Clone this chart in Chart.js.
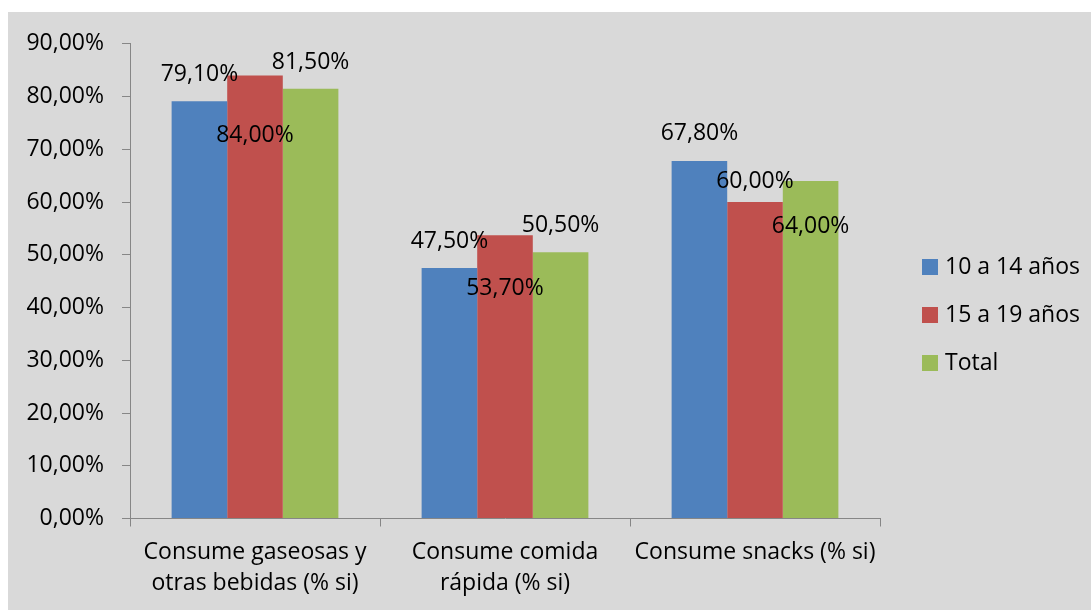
<!DOCTYPE html>
<html>
<head>
<meta charset="utf-8">
<script src="https://cdn.jsdelivr.net/npm/chart.js@4/dist/chart.umd.min.js"></script>
<style>
  body { margin: 0; background: #ffffff; }
  #marco { position: absolute; left: 8px; top: 12px; width: 1083px; height: 598px; background: #d9d9d9; }
</style>
</head>
<body>
<div id="marco"><canvas id="grafico" width="1083" height="598"></canvas></div>
<script>
const categorias = [
  ["Consume gaseosas y", "otras bebidas (% si)"],
  ["Consume comida", "rápida (% si)"],
  ["Consume snacks (% si)"]
];
const series = ["10 a 14 años", "15 a 19 años", "Total"];
const edad10a14 = [79.1, 47.5, 67.8];
const edad15a19 = [84.0, 53.7, 60.0];
const total = [81.5, 50.5, 64.0];
const colores = ["#4f81bd", "#c0504d", "#9bbb59"];

// desplazamiento vertical de cada etiqueta respecto al tope de la barra (px)
const desplazamientos = [
  [-27, -27, -27],
  [60, 53, -21],
  [-26, -27, 46]
];

const fuente = "'Open Sans', sans-serif";
const formato = v => v.toFixed(2).replace(".", ",") + "%";

const etiquetas = {
  id: "etiquetas",
  afterDatasetsDraw(chart) {
    const ctx = chart.ctx;
    ctx.save();
    ctx.font = "23px " + fuente;
    ctx.fillStyle = "#000";
    ctx.textAlign = "center";
    ctx.textBaseline = "middle";
    chart.data.datasets.forEach((ds, i) => {
      chart.getDatasetMeta(i).data.forEach((bar, j) => {
        ctx.fillText(formato(ds.data[j]), bar.x, bar.y + desplazamientos[i][j]);
      });
    });
    ctx.restore();
  }
};

const leyenda = {
  id: "leyenda",
  afterDraw(chart) {
    const ctx = chart.ctx;
    ctx.save();
    ctx.font = "23px " + fuente;
    ctx.textBaseline = "middle";
    chart.data.datasets.forEach((ds, i) => {
      const y = 255 + i * 48;
      ctx.fillStyle = ds.backgroundColor;
      ctx.fillRect(914, y - 8, 16, 16);
      ctx.fillStyle = "#000";
      ctx.fillText(ds.label, 937, y);
    });
    ctx.restore();
  }
};

new Chart(document.getElementById("grafico"), {
  type: "bar",
  data: {
    labels: categorias,
    datasets: [
      { label: series[0], data: edad10a14, backgroundColor: colores[0] },
      { label: series[1], data: edad15a19, backgroundColor: colores[1] },
      { label: series[2], data: total, backgroundColor: colores[2] }
    ]
  },
  options: {
    responsive: false,
    animation: false,
    devicePixelRatio: 1,
    categoryPercentage: 0.667,
    barPercentage: 1.0,
    layout: { padding: { top: 30, right: 211, bottom: 0, left: 0 } },
    plugins: {
      legend: { display: false },
      tooltip: { enabled: false }
    },
    scales: {
      x: {
        grid: { display: true, drawOnChartArea: false, drawTicks: true, tickLength: 8, color: "#868686", offset: true },
        border: { display: true, color: "#868686" },
        ticks: { color: "#000", font: { family: fuente, size: 23, lineHeight: 1.35 }, padding: 10, maxRotation: 0 },
        afterFit: s => { s.height = 91.5; }
      },
      y: {
        min: 0,
        max: 90,
        grid: { display: true, drawOnChartArea: false, drawTicks: true, tickLength: 8, color: "#868686" },
        border: { display: true, color: "#868686" },
        ticks: { stepSize: 10, color: "#000", font: { family: fuente, size: 23 }, padding: 18, callback: v => formato(v) },
        afterFit: s => { s.width = 122; }
      }
    }
  },
  plugins: [etiquetas, leyenda]
});
</script>
</body>
</html>
